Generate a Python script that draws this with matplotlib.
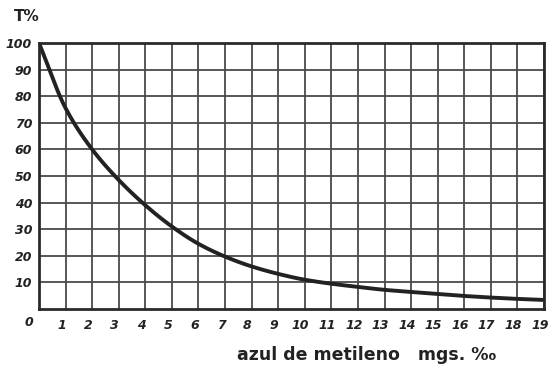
import matplotlib.pyplot as plt
import matplotlib.transforms as mtransforms
import numpy as np

# concentration (mg/1000) vs transmission %
conc = [0, 1, 2, 3, 4, 5, 6, 7, 8, 9, 10, 11, 12, 13, 14, 15, 16, 17, 18, 19]
trans = [100, 75.5, 60, 48.5, 39, 31, 24.5, 19.7, 16, 13.2, 11, 9.5, 8.3, 7.2, 6.4, 5.6, 4.9, 4.3, 3.8, 3.4]

x_ticks = list(range(1, 20))
y_ticks = list(range(10, 101, 10))


def pchip(x, y, xs):
    # monotone cubic so the hand drawn curve stays smooth
    x = np.asarray(x, float)
    y = np.asarray(y, float)
    h = np.diff(x)
    d = np.diff(y) / h
    m = np.zeros_like(y)
    m[0], m[-1] = d[0], d[-1]
    for i in range(1, len(y) - 1):
        if d[i - 1] * d[i] > 0:
            w1 = 2 * h[i] + h[i - 1]
            w2 = h[i] + 2 * h[i - 1]
            m[i] = (w1 + w2) / (w1 / d[i - 1] + w2 / d[i])
    idx = np.clip(np.searchsorted(x, xs) - 1, 0, len(x) - 2)
    t = (xs - x[idx]) / h[idx]
    h00 = 2 * t**3 - 3 * t**2 + 1
    h10 = t**3 - 2 * t**2 + t
    h01 = -2 * t**3 + 3 * t**2
    h11 = t**3 - t**2
    return h00 * y[idx] + h10 * h[idx] * m[idx] + h01 * y[idx + 1] + h11 * h[idx] * m[idx + 1]


def main():
    fig = plt.figure(figsize=(5.51, 3.74), dpi=100)
    ax = fig.add_axes([0.0708, 0.1738, 0.9165, 0.7112])

    xs = np.linspace(conc[0], conc[-1], 600)
    ax.plot(xs, pchip(conc, trans, xs), color='#222222', lw=2.8, solid_capstyle='round')

    ax.set_xlim(0, 19)
    ax.set_ylim(0, 100)
    ax.set_xticks(x_ticks)
    ax.set_yticks(y_ticks)
    ax.grid(True, color='#4a4a4a', lw=1.3)
    ax.set_axisbelow(True)
    for s in ax.spines.values():
        s.set_color('#2a2a2a')
        s.set_linewidth(2)
    ax.tick_params(length=0, labelsize=9, labelcolor='#222222')
    ax.tick_params(axis='x', pad=7)
    ax.tick_params(axis='y', pad=5)
    shift = mtransforms.ScaledTranslation(-3 / 72, 0, fig.dpi_scale_trans)
    for lab in ax.get_xticklabels() + ax.get_yticklabels():
        lab.set_fontweight('bold')
        lab.set_fontstyle('italic')
    for lab in ax.get_xticklabels():
        lab.set_transform(lab.get_transform() + shift)

    ax.annotate("0", xy=(0, 0), xytext=(-7, -10), textcoords='offset points',
                ha='center', va='center', fontsize=9, fontweight='bold',
                fontstyle='italic', color='#222222')
    fig.text(0.025, 0.955, "T%", fontsize=11, fontweight='bold', color='#222222',
             ha='left', va='center')
    fig.text(0.665, 0.05, "azul de metileno   mgs. ‰", fontsize=12.5,
             fontweight='semibold', color='#222222', ha='center', va='center')

    fig.savefig("out.png", dpi=100)


if __name__ == '__main__':
    main()
